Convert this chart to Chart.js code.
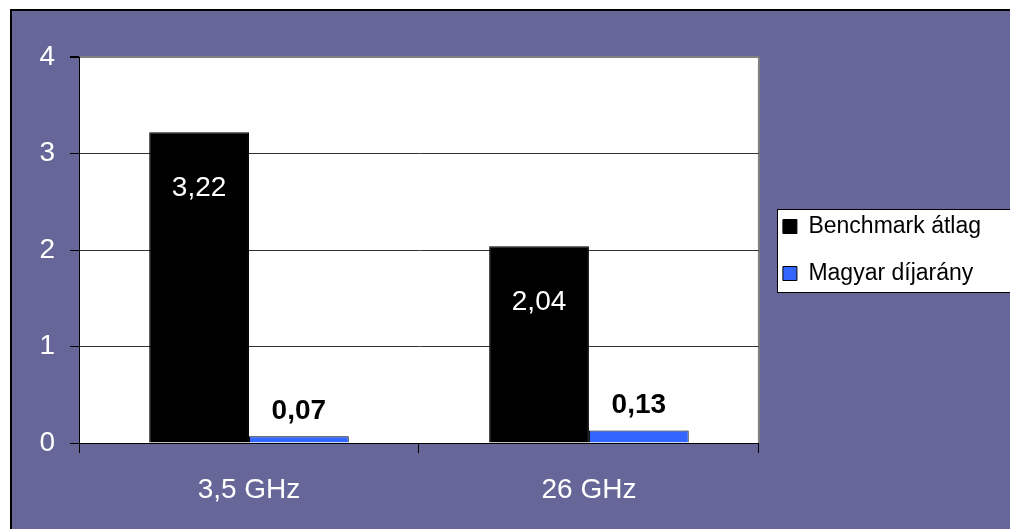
<!DOCTYPE html>
<html>
<head>
<meta charset="utf-8">
<script src="https://cdn.jsdelivr.net/npm/chart.js@4"></script>
<style>
  body { margin: 0; background: #fff; }
  #frame {
    position: absolute; left: 10px; top: 9px; width: 1010px; height: 530px;
    background: #666699; border-left: 2px solid #000; border-top: 2px solid #000;
  }
  #chart { position: absolute; left: 0; top: 0; }
</style>
</head>
<body>
<div id="frame"></div>
<canvas id="chart" width="1010" height="529"></canvas>
<script>
var categories = ['3,5 GHz', '26 GHz'];
var benchmarkValues = [3.22, 2.04];
var magyarValues = [0.07, 0.13];
var seriesNames = ['Benchmark átlag', 'Magyar díjarány'];
var yTicks = [0, 1, 2, 3, 4];

var FONT = '"Liberation Sans", Arial, sans-serif';

function fmt(v) {
  return v.toFixed(2).replace('.', ',');
}

// white plot area, grey frame and the boxed legend
var backgroundPlugin = {
  id: 'background',
  beforeDraw: function(chart) {
    var ctx = chart.ctx, a = chart.chartArea;
    ctx.save();
    ctx.fillStyle = '#fff';
    ctx.fillRect(a.left, a.top, a.right - a.left, a.bottom - a.top);
    ctx.strokeStyle = '#808080';
    ctx.lineWidth = 2;
    ctx.beginPath();
    ctx.moveTo(a.right, a.top);
    ctx.lineTo(a.right, a.bottom);
    ctx.stroke();

    var hb = chart.legend.legendHitBoxes;
    if (hb && hb.length) {
      var first = hb[0], last = hb[hb.length - 1];
      var mid = (first.top + last.top + last.height) / 2;
      var x0 = Math.round(first.left - 6);
      var y0 = Math.round(mid - 41.5);
      ctx.fillStyle = '#fff';
      ctx.fillRect(x0, y0, chart.width - x0 + 5, 83);
      ctx.strokeStyle = '#000';
      ctx.lineWidth = 1;
      ctx.strokeRect(x0 + 0.5, y0 + 0.5, chart.width - x0 + 5, 83);
    }
    ctx.restore();
  }
};

var valueLabels = {
  id: 'valueLabels',
  afterDatasetsDraw: function(chart) {
    var ctx = chart.ctx;
    ctx.save();
    ctx.textAlign = 'center';
    chart.data.datasets.forEach(function(ds, i) {
      var meta = chart.getDatasetMeta(i);
      meta.data.forEach(function(bar, j) {
        var v = ds.data[j];
        if (i === 0) {
          ctx.font = '28px ' + FONT;
          ctx.fillStyle = '#fff';
          ctx.textBaseline = 'middle';
          ctx.fillText(fmt(v), bar.x, bar.y + 56);
        } else {
          ctx.font = 'bold 28px ' + FONT;
          ctx.fillStyle = '#000';
          ctx.textBaseline = 'alphabetic';
          ctx.fillText(fmt(v), bar.x, bar.y - 17);
        }
      });
    });
    ctx.restore();
  }
};

new Chart(document.getElementById('chart'), {
  type: 'bar',
  data: {
    labels: categories,
    datasets: [{
      label: seriesNames[0],
      data: benchmarkValues,
      backgroundColor: '#000000',
      borderColor: '#000000',
      borderWidth: 1
    }, {
      label: seriesNames[1],
      data: magyarValues,
      backgroundColor: '#3366FF',
      borderColor: '#000000',
      borderWidth: 1
    }]
  },
  options: {
    responsive: false,
    animation: false,
    layout: { padding: { top: 57, right: 19, bottom: 0, left: 0 } },
    datasets: {
      bar: { categoryPercentage: 0.587, barPercentage: 1 }
    },
    plugins: {
      legend: {
        position: 'right',
        fullSize: false,
        labels: {
          color: '#000',
          font: { family: FONT, size: 23 },
          boxWidth: 14,
          boxHeight: 14,
          padding: 24
        }
      },
      tooltip: { enabled: false }
    },
    scales: {
      x: {
        grid: {
          drawOnChartArea: false,
          tickLength: 10,
          tickColor: '#000',
          offset: true
        },
        border: { color: '#000', width: 1 },
        ticks: {
          color: '#fff',
          font: { family: FONT, size: 28 },
          padding: 20
        },
        afterFit: function(s) { s.height = 86; }
      },
      y: {
        min: yTicks[0],
        max: yTicks[yTicks.length - 1],
        afterBuildTicks: function(s) {
          s.ticks = yTicks.map(function(v) { return { value: v }; });
        },
        grid: {
          color: function(c) { return c.tick && c.tick.value === 4 ? '#808080' : '#333333'; },
          lineWidth: function(c) { return c.tick && c.tick.value === 4 ? 2 : 1; },
          tickLength: 9,
          tickColor: '#000'
        },
        border: { color: '#000', width: 1 },
        ticks: {
          color: '#fff',
          font: { family: FONT, size: 28 },
          padding: 15
        },
        afterFit: function(s) { s.width = 79; }
      }
    }
  },
  plugins: [backgroundPlugin, valueLabels]
});
</script>
</body>
</html>
